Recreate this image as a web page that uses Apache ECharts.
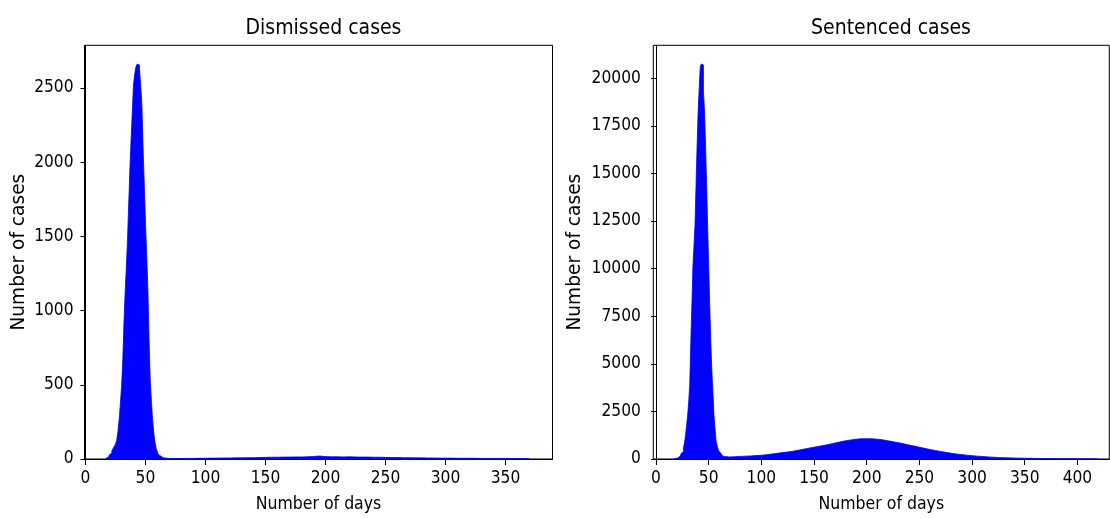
<!DOCTYPE html>
<html>
<head>
<meta charset="utf-8">
<script src="https://cdn.jsdelivr.net/npm/echarts@6/dist/echarts.min.js"></script>
<style>
  html, body { margin: 0; padding: 0; background: #fff; }
  #chart { width: 1110px; height: 518px; }
</style>
</head>
<body>
<div id="chart"></div>
<script>
// histogram counts
// peak part: 1-day bins starting at peakStart, tail part: 5-day bins starting at tailStart
var dismissedPeakStart = 17;
var dismissedPeak = [
  5, 10, 18, 28, 40, 55, 70, 85, 100, 125, 180, 260, 360, 480, 640, 900,
  1110, 1280, 1470, 1710, 1950, 2150, 2330, 2520, 2590, 2640, 2660, 2655, 2630, 2520, 2390, 2100,
  1850, 1600, 1380, 1150, 800, 530, 380, 260, 170, 110, 70, 45, 28, 18, 12, 8
];
var dismissedTailStart = 65;
var dismissedTail = [
  4, 3, 3, 4, 4, 5, 5, 6, 6, 7, 7, 8, 8, 9, 9, 10, 11, 12, 12, 13, 13, 14, 14, 15, 17,
  20, 16, 15, 15, 14, 15, 14, 13, 13, 12, 12, 11, 10, 10, 9, 9, 8, 8, 7, 7, 6, 6, 6, 5,
  5, 5, 5, 4, 4, 4, 4, 4, 3, 3, 3, 3
];

var sentencedPeakStart = 17;
var sentencedPeak = [
  10, 20, 40, 70, 110, 160, 220, 300, 400, 560, 850, 1250, 1750, 2300, 3000, 3900,
  6100, 8000, 10100, 11200, 12300, 14450, 16500, 18300, 19500, 20600, 20750, 20700, 19300, 18300, 16500, 14450,
  12200, 10100, 8000, 6100, 4600, 3500, 2300, 1600, 950, 700, 500, 380, 280, 210, 160, 130
];
var sentencedTailStart = 65;
var sentencedTail = [
  110, 120, 135, 150, 160, 180, 200, 225, 260, 300, 335, 370, 410, 460, 515, 570, 620, 670,
  720, 780, 840, 900, 960, 1000, 1040, 1060, 1065, 1060, 1040, 1010, 960, 910, 860, 800,
  740, 680, 620, 560, 500, 450, 400, 350, 305, 265, 230, 200, 175, 150, 130, 110, 95, 80,
  70, 60, 52, 45, 40, 35, 30, 27, 24, 21, 18, 16, 14, 12, 10, 9, 8, 7, 6
];

var dismissedXTicks = [0, 50, 100, 150, 200, 250, 300, 350];
var dismissedYTicks = [0, 500, 1000, 1500, 2000, 2500];
var sentencedXTicks = [0, 50, 100, 150, 200, 250, 300, 350, 400];
var sentencedYTicks = [0, 2500, 5000, 7500, 10000, 12500, 15000, 17500, 20000];

// the source image is a little squeezed sideways, so horizontal text uses the condensed face
var FONT = "'DejaVu Sans Condensed', 'DejaVu Sans'";
var FONT_V = 'DejaVu Sans';

// step points [edge, count]; last point closes the final bin
function histPoints(peakStart, peak, tailStart, tail) {
  var pts = [];
  for (var i = 0; i < peak.length; i++) pts.push([peakStart + i, peak[i]]);
  for (var j = 0; j < tail.length; j++) pts.push([tailStart + 5 * j, tail[j]]);
  pts.push([tailStart + 5 * tail.length, 0]);
  return pts;
}

function plain(v) { return String(v); }

function xAxis(idx, min, max, ticks) {
  return {
    type: 'value', gridIndex: idx, min: min, max: max,
    name: 'Number of days', nameLocation: 'middle', nameGap: 36,
    nameTextStyle: { fontFamily: FONT, fontSize: 17.5, color: '#000' },
    axisLine: { show: true, onZero: false, lineStyle: { color: '#000', width: 1 } },
    axisTick: { show: true, inside: false, length: 6, customValues: ticks, lineStyle: { color: '#000' } },
    axisLabel: { customValues: ticks, formatter: plain, fontFamily: FONT, fontSize: 17.2, color: '#000', margin: 11 },
    splitLine: { show: false }
  };
}

function yAxis(idx, max, ticks, gap, margin) {
  return {
    type: 'value', gridIndex: idx, min: 0, max: max,
    name: 'Number of cases', nameLocation: 'middle', nameGap: gap,
    nameTextStyle: { fontFamily: FONT_V, fontSize: 18.6, color: '#000' },
    axisLine: { show: true, lineStyle: { color: '#000', width: 1 } },
    axisTick: { show: true, inside: false, length: 5, customValues: ticks, lineStyle: { color: '#000' } },
    axisLabel: { customValues: ticks, formatter: plain, fontFamily: FONT, fontSize: 17.2, color: '#000', margin: margin },
    splitLine: { show: false }
  };
}

function histSeries(idx, pts) {
  return {
    type: 'line', xAxisIndex: idx, yAxisIndex: idx,
    step: 'end', showSymbol: false, silent: true,
    lineStyle: { color: '#0000ff', width: 0.8 },
    areaStyle: { color: '#0000ff', opacity: 1 },
    data: pts
  };
}

var chart = echarts.init(document.getElementById('chart'));
chart.setOption({
  animation: false,
  backgroundColor: '#fff',
  title: [
    { text: 'Dismissed cases', left: 318.5, top: 13, textAlign: 'center',
      textStyle: { fontFamily: FONT, fontSize: 21, fontWeight: 'normal', color: '#000' } },
    { text: 'Sentenced cases', left: 886, top: 13, textAlign: 'center',
      textStyle: { fontFamily: FONT, fontSize: 21, fontWeight: 'normal', color: '#000' } }
  ],
  grid: [
    { left: 84.5, top: 45.3, width: 468, height: 417, show: true, borderColor: '#000', borderWidth: 1 },
    { left: 653.3, top: 45.3, width: 456, height: 417, show: true, borderColor: '#000', borderWidth: 1 }
  ],
  xAxis: [
    xAxis(0, -0.8, 389.2, dismissedXTicks),
    xAxis(1, -2.6, 430.3, sentencedXTicks)
  ],
  yAxis: [
    yAxis(0, 2787, dismissedYTicks, 56, 11),
    yAxis(1, 21730, sentencedYTicks, 69, 12.5)
  ],
  series: [
    histSeries(0, histPoints(dismissedPeakStart, dismissedPeak, dismissedTailStart, dismissedTail)),
    histSeries(1, histPoints(sentencedPeakStart, sentencedPeak, sentencedTailStart, sentencedTail))
  ]
});
</script>
</body>
</html>
